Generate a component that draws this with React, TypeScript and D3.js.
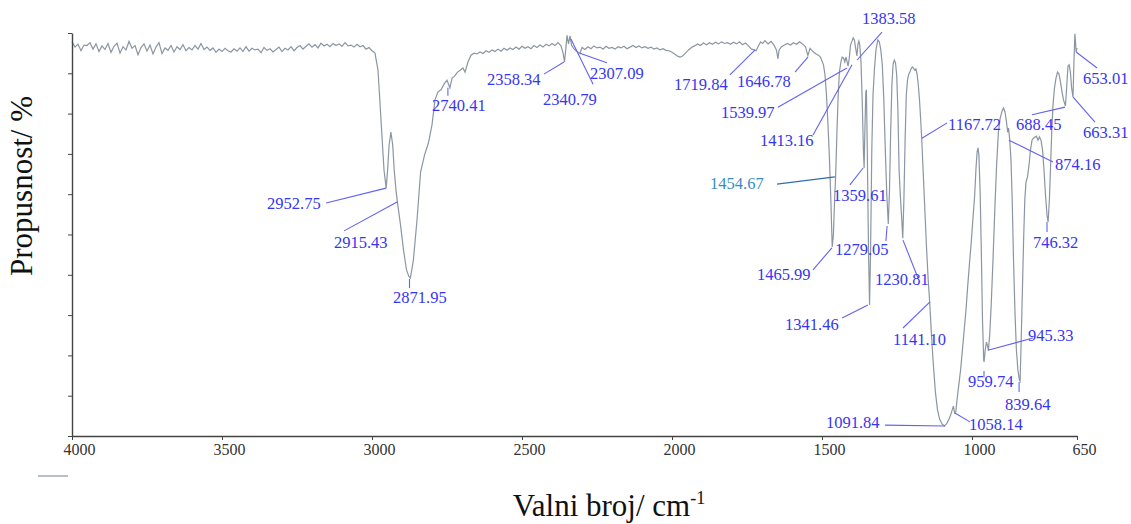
import React, { useEffect, useRef } from 'react';
import * as d3 from 'd3';

type Pt = [number, number];

// spectrum, [wavenumber cm-1, transmittance %]
const baselineHigh: Pt[] = [
  [4000, 97.8], [3990, 96.5], [3980, 97.2], [3970, 95.6], [3960, 97.0], [3950, 96.9], [3940, 97.6], [3930, 96.0],
  [3920, 97.3], [3910, 95.4], [3900, 96.8], [3890, 95.9], [3880, 97.4], [3870, 95.2], [3860, 96.7], [3850, 97.5],
  [3840, 95.0], [3830, 96.6], [3820, 95.8], [3810, 97.9], [3800, 96.2], [3790, 96.9], [3780, 94.6], [3770, 96.4],
  [3760, 97.3], [3750, 95.5], [3740, 97.0], [3730, 94.8], [3720, 96.5], [3710, 97.6], [3700, 94.9], [3690, 96.3],
  [3680, 95.7], [3670, 96.9], [3660, 95.3], [3650, 96.6], [3640, 95.9], [3630, 97.1], [3620, 95.6], [3610, 96.4],
  [3600, 95.8], [3590, 96.9], [3580, 96.0], [3570, 97.4], [3560, 95.9], [3550, 96.5], [3540, 95.7], [3530, 96.3],
  [3520, 95.2], [3510, 96.0], [3500, 95.4], [3490, 96.2], [3480, 95.6], [3470, 95.3], [3460, 96.1], [3450, 95.5],
  [3440, 96.3], [3430, 95.4], [3420, 96.6], [3410, 95.5], [3400, 96.2], [3390, 95.8], [3380, 96.0], [3370, 95.1],
  [3360, 96.4], [3350, 95.7], [3340, 96.1], [3330, 95.3], [3320, 95.9], [3310, 96.5], [3300, 95.4], [3290, 96.2],
  [3280, 95.8], [3270, 96.6], [3260, 95.6], [3250, 96.4], [3240, 96.9], [3230, 96.0], [3220, 96.7], [3210, 97.3],
  [3200, 96.5], [3190, 97.1], [3180, 96.3], [3170, 97.5], [3160, 96.8], [3150, 97.2], [3140, 96.6], [3130, 97.4],
  [3120, 96.9], [3110, 97.3], [3100, 96.7], [3090, 97.6], [3080, 96.8], [3070, 97.0], [3060, 96.5], [3050, 97.2],
  [3040, 96.6], [3030, 96.9], [3020, 96.0], [3010, 96.4], [3000, 95.6],
];

const chStretch: Pt[] = [
  [2990, 95.0], [2980, 90.8], [2970, 78.4], [2960, 66.0], [2952.75, 61.5], [2948, 66.0], [2943, 72.2], [2937, 75.4],
  [2931, 72.2], [2926, 66.0], [2920, 61.0], [2915.43, 58.1], [2905, 52.4], [2895, 46.2], [2885, 41.2], [2877, 39.6],
  [2871.95, 39.2], [2862, 43.7], [2850, 53.6], [2838, 65.5], [2825, 69.7], [2812, 72.7], [2800, 77.2], [2790, 83.4],
  [2780, 85.4], [2770, 85.9], [2760, 87.3], [2750, 88.3], [2740.41, 86.4], [2733, 88.8], [2725, 89.3], [2715, 90.3],
  [2705, 90.8], [2697, 91.3], [2690, 90.3], [2680, 92.8], [2670, 94.5], [2660, 95.0], [2650, 94.8],
];

const midRange: Pt[] = [
  [2640, 95.3], [2630, 94.9], [2620, 95.6], [2610, 95.2], [2600, 95.8], [2590, 95.4], [2580, 96.0], [2570, 95.5],
  [2560, 96.2], [2550, 95.7], [2540, 96.3], [2530, 95.9], [2520, 96.5], [2510, 96.0], [2500, 96.7], [2490, 96.2],
  [2480, 96.6], [2470, 96.1], [2460, 96.9], [2450, 96.4], [2440, 97.0], [2430, 96.5], [2420, 97.2], [2410, 96.8],
  [2400, 97.4], [2390, 96.9], [2380, 97.6], [2370, 96.8], [2363, 95.0], [2358.34, 92.8], [2354, 96.0], [2350, 99.4],
  [2345, 97.3], [2340, 99.3], [2335, 97.0], [2328, 96.2], [2320, 95.6], [2313, 95.2], [2307.09, 94.9], [2300, 96.4],
  [2290, 95.9], [2280, 96.6], [2270, 96.1], [2260, 96.8], [2250, 96.3], [2240, 96.5], [2230, 96.0], [2220, 96.7],
  [2210, 96.2], [2200, 96.4], [2190, 96.0], [2180, 96.6], [2170, 96.3], [2160, 96.7], [2150, 96.1], [2140, 96.5],
  [2130, 96.9], [2120, 96.4], [2110, 96.8], [2100, 96.3], [2090, 96.6], [2080, 96.2], [2070, 96.5], [2060, 96.0],
  [2050, 96.3], [2040, 95.8], [2030, 96.1], [2020, 95.7], [2010, 95.6], [2000, 95.2], [1990, 94.7], [1980, 94.2],
  [1973, 94.0], [1965, 94.3], [1955, 95.0], [1945, 95.8], [1935, 96.4], [1925, 96.8], [1915, 97.3], [1905, 96.9],
  [1895, 97.5], [1885, 97.1], [1875, 97.6], [1865, 97.2], [1855, 97.7], [1845, 97.3], [1835, 97.8], [1825, 97.4],
  [1815, 97.6], [1805, 97.2], [1795, 97.7], [1785, 97.3], [1775, 97.8], [1765, 97.1], [1755, 97.5], [1745, 96.8],
  [1735, 96.0], [1725, 95.8], [1719.84, 95.6], [1712, 96.8], [1705, 97.8], [1698, 97.4], [1690, 98.1], [1680, 97.3],
  [1670, 97.9], [1660, 97.0], [1652, 95.8], [1646.78, 93.6], [1643, 95.8], [1635, 96.6], [1625, 97.0], [1615, 97.4],
  [1605, 97.0], [1595, 97.6], [1585, 97.2], [1575, 97.8], [1565, 97.3], [1555, 96.6], [1547, 94.4], [1540, 96.2],
  [1530, 95.4], [1520, 94.8], [1512, 94.5], [1505, 94.0],
];

const fingerprint: Pt[] = [
  [1495, 92.1], [1490, 89.6], [1485, 84.6], [1480, 77.2], [1475, 68.5], [1470, 57.3], [1465.99, 46.9], [1462, 49.9],
  [1458, 58.6], [1454.67, 64.3], [1450, 75.9], [1446, 84.6], [1442, 90.3], [1437, 92.8], [1433, 94.0], [1428, 93.8],
  [1424, 92.8], [1420, 94.0], [1416, 92.8], [1413.16, 91.8], [1409, 93.8], [1405, 97.0], [1401, 97.8], [1396, 98.8],
  [1392, 98.3], [1388, 96.3], [1383.58, 94.3], [1380, 97.3], [1377, 98.0], [1374, 97.0], [1370, 92.8], [1366, 83.4],
  [1362, 71.0], [1359.61, 66.5], [1357, 75.9], [1354, 85.4], [1352, 85.9], [1349, 71.0], [1345, 46.2], [1341.46, 32.5],
  [1338, 46.2], [1334, 71.0], [1330, 84.6], [1325, 91.3], [1320, 95.8], [1314, 98.3], [1309, 97.8], [1304, 95.8],
  [1299, 92.1], [1294, 83.4], [1289, 71.0], [1284, 59.8], [1279.05, 52.6], [1275, 61.0], [1271, 75.9], [1267, 87.1],
  [1263, 92.3], [1259, 93.3], [1255, 92.6], [1251, 89.6], [1247, 80.9], [1243, 66.0], [1239, 59.8], [1235, 54.8],
  [1230.81, 49.1], [1227, 58.6], [1223, 73.4], [1219, 84.6], [1215, 88.3], [1211, 89.8], [1207, 90.3], [1203, 91.1],
  [1199, 91.6], [1195, 91.3], [1191, 90.8], [1187, 91.1], [1183, 89.8], [1179, 87.1], [1175, 83.4], [1171, 78.4],
  [1167.72, 73.9], [1160, 61.0], [1152, 47.4], [1146, 38.7], [1141.1, 33.3], [1136, 26.3], [1130, 18.9], [1122, 10.9],
  [1115, 6.5], [1108, 4.2], [1100, 3.0], [1091.84, 2.5], [1085, 3.0], [1078, 4.0], [1072, 5.0], [1066, 6.5],
  [1062, 7.4], [1058.14, 5.7], [1054, 6.0], [1050, 8.9], [1044, 12.7], [1038, 16.4], [1032, 21.3], [1026, 26.3],
  [1020, 31.3], [1014, 37.5], [1008, 43.2], [1002, 48.6], [996, 54.8], [991, 59.8], [987, 66.0], [983, 70.5],
  [980, 71.5], [977, 69.7], [973, 61.0], [969, 46.2], [965, 28.8], [961, 18.9], [959.74, 18.4], [956, 21.3],
  [952, 23.3], [948, 22.3], [945.33, 21.3], [941, 25.1], [936, 32.5], [930, 43.7], [924, 56.1], [918, 67.2],
  [912, 75.4], [906, 78.9], [900, 80.6], [895, 81.4], [890, 80.4], [885, 77.9], [881, 75.4], [878, 76.4],
  [874.16, 73.4], [870, 68.5], [866, 58.6], [862, 44.9], [857, 31.3], [852, 21.3], [847, 16.4], [842, 13.9],
  [839.64, 13.6], [836, 23.8], [832, 36.2], [828, 48.6], [824, 58.6], [820, 63.0], [815, 64.3], [810, 67.2],
  [805, 71.0], [800, 73.4], [795, 73.9], [790, 74.2], [785, 74.4], [780, 73.4], [775, 74.2], [770, 73.4],
  [765, 71.0], [760, 66.0], [755, 59.8], [750, 54.8], [746.32, 53.1], [742, 58.6], [738, 67.2], [734, 75.9],
  [730, 82.1], [725, 86.4], [720, 88.8], [715, 90.3], [710, 89.8], [705, 87.8], [700, 85.4], [695, 83.4],
  [688.45, 81.9], [684, 87.1], [680, 91.8], [676, 92.1], [672, 90.3], [668, 86.4], [663.31, 84.1], [660, 93.3],
  [657, 99.8], [655, 97.8], [653.01, 95.3], [650, 96.3],
];

const spectrum: Pt[] = [...baselineHigh, ...chStretch, ...midRange, ...fingerprint];

const xTicks = [4000, 3500, 3000, 2500, 2000, 1500, 1000, 650];
const yTicks = [0, 10, 20, 30, 40, 50, 60, 70, 80, 90, 100];

// peak labels: text and the point on the curve the leader points at
const peaks: { text: string; at: Pt }[] = [
  { text: '2952.75', at: [2953, 61.5] },
  { text: '2915.43', at: [2915, 58.1] },
  { text: '2871.95', at: [2875, 39.0] },
  { text: '2740.41', at: [2747, 86.4] },
  { text: '2358.34', at: [2360, 92.8] },
  { text: '2340.79', at: [2337, 98.5] },
  { text: '2307.09', at: [2307, 95.0] },
  { text: '1719.84', at: [1723, 95.8] },
  { text: '1646.78', at: [1547, 94.0] },
  { text: '1539.97', at: [1417, 91.3] },
  { text: '1413.16', at: [1400, 92.1] },
  { text: '1383.58', at: [1383, 93.3] },
  { text: '1454.67', at: [1457, 64.3] },
  { text: '1359.61', at: [1363, 66.5] },
  { text: '1465.99', at: [1467, 46.7] },
  { text: '1279.05', at: [1283, 52.1] },
  { text: '1230.81', at: [1230, 48.6] },
  { text: '1341.46', at: [1347, 32.5] },
  { text: '1141.10', at: [1140, 33.3] },
  { text: '1091.84', at: [1090, 2.5] },
  { text: '1058.14', at: [1057, 5.7] },
  { text: '959.74', at: [960, 16.1] },
  { text: '945.33', at: [947, 21.3] },
  { text: '839.64', at: [843, 13.4] },
  { text: '746.32', at: [750, 53.1] },
  { text: '874.16', at: [877, 73.4] },
  { text: '1167.72', at: [1167, 73.9] },
  { text: '688.45', at: [690, 81.6] },
  { text: '663.31', at: [663, 84.1] },
  { text: '653.01', at: [653, 95.3] },
];

// where each label sits, in the same data units: leader start, text start
const labelPlacement: { from: Pt; pos: Pt }[] = [
  { from: [3153, 57.8], pos: [3350, 56.3] },
  { from: [3093, 50.9], pos: [3127, 46.7] },
  { from: [2875, 36.7], pos: [2930, 33.0] },
  { from: [2747, 84.4], pos: [2800, 80.6] },
  { from: [2427, 89.8], pos: [2617, 87.1] },
  { from: [2263, 87.3], pos: [2430, 82.1] },
  { from: [2217, 92.6], pos: [2273, 88.6] },
  { from: [1807, 89.6], pos: [1993, 85.9] },
  { from: [1590, 90.3], pos: [1783, 86.6] },
  { from: [1647, 81.6], pos: [1837, 78.9] },
  { from: [1530, 74.7], pos: [1707, 72.0] },
  { from: [1300, 100.2], pos: [1367, 102.2] },
  { from: [1650, 62.5], pos: [1873, 61.3] },
  { from: [1407, 62.3], pos: [1463, 58.3] },
  { from: [1530, 41.2], pos: [1717, 38.7] },
  { from: [1287, 48.4], pos: [1457, 44.9] },
  { from: [1180, 39.2], pos: [1323, 37.5] },
  { from: [1433, 29.3], pos: [1623, 26.3] },
  { from: [1230, 26.8], pos: [1263, 22.6] },
  { from: [1290, 2.7], pos: [1487, 2.0] },
  { from: [1007, 3.5], pos: [1010, 1.5] },
  { from: [960, 14.6], pos: [1013, 12.2] },
  { from: [797, 24.3], pos: [813, 23.6] },
  { from: [843, 10.9], pos: [890, 6.5] },
  { from: [750, 50.6], pos: [797, 46.7] },
  { from: [730, 68.0], pos: [723, 66.0] },
  { from: [1083, 77.7], pos: [1080, 75.9] },
  { from: [800, 79.7], pos: [853, 75.9] },
  { from: [590, 77.9], pos: [630, 73.9] },
  { from: [583, 91.3], pos: [630, 87.3] },
];

const SERIF = '"Liberation Serif", "Times New Roman", serif';

export default function App() {
  const xAxisRef = useRef<SVGGElement>(null);
  const yAxisRef = useRef<SVGGElement>(null);

  const width = 1131;
  const height = 524;
  const margin = { top: 33, right: 54, bottom: 88, left: 72 };

  const x = d3.scaleLinear().domain([4000, 650]).range([margin.left, width - margin.right]);
  const y = d3.scaleLinear().domain([0, 100]).range([height - margin.bottom, margin.top]);

  const line = d3.line<Pt>().x(d => x(d[0])).y(d => y(d[1]));

  useEffect(() => {
    if (!xAxisRef.current || !yAxisRef.current) return;

    // bottom axis, labels sit a little right of their ticks as in the original
    const gx = d3.select(xAxisRef.current);
    gx.call(d3.axisBottom(x).tickValues(xTicks).tickSize(4).tickSizeOuter(0).tickFormat(d3.format('d')));
    gx.attr('font-family', SERIF).attr('font-size', 16);
    gx.select('.domain').attr('stroke', '#444').attr('stroke-width', 1.4);
    gx.selectAll('.tick line').attr('stroke', '#444');
    gx.selectAll('.tick text').attr('fill', '#333').attr('y', 8).attr('x', 7);

    // left axis, ticks only
    const gy = d3.select(yAxisRef.current);
    gy.call(d3.axisLeft(y).tickValues(yTicks).tickSize(4).tickSizeOuter(0).tickFormat(() => ''));
    gy.select('.domain').attr('stroke', '#444').attr('stroke-width', 1.4);
    gy.selectAll('.tick line').attr('stroke', '#444');
  }, []);

  return (
    <svg width={width} height={height} style={{ position: 'absolute', left: 0, top: 0, background: '#fff' }}>
      <path d={line(spectrum) || ''} fill="none" stroke="#8b96a2" strokeWidth={1.2} />

      <g ref={xAxisRef} transform={`translate(0,${height - margin.bottom})`} />
      <g ref={yAxisRef} transform={`translate(${margin.left},0)`} />

      {/* peak annotations */}
      <g fontFamily={SERIF} fontSize={16.5}>
        {peaks.map((p, i) => {
          const place = labelPlacement[i];
          const teal = p.text === '1454.67';
          return (
            <g key={p.text}>
              <line
                x1={x(place.from[0])} y1={y(place.from[1])}
                x2={x(p.at[0])} y2={y(p.at[1])}
                stroke={teal ? '#2f6db3' : '#6262f2'} strokeWidth={1.1}
              />
              <text x={x(place.pos[0])} y={y(place.pos[1])} fill={teal ? '#3a8cc4' : '#3636f2'}>
                {p.text}
              </text>
            </g>
          );
        })}
      </g>

      {/* legend swatch */}
      <line x1={38} x2={68} y1={476} y2={476} stroke="#b7bfc9" strokeWidth={2} />

      {/* axis titles */}
      <text
        transform="translate(32,186) rotate(-90)"
        textAnchor="middle" fontFamily={SERIF} fontSize={31} fill="#111"
      >
        Propusnost/ %
      </text>
      <text x={609} y={516} textAnchor="middle" fontFamily={SERIF} fontSize={31} fill="#111">
        Valni broj/ cm<tspan fontSize={18} dy={-12}>-1</tspan>
      </text>
    </svg>
  );
}
